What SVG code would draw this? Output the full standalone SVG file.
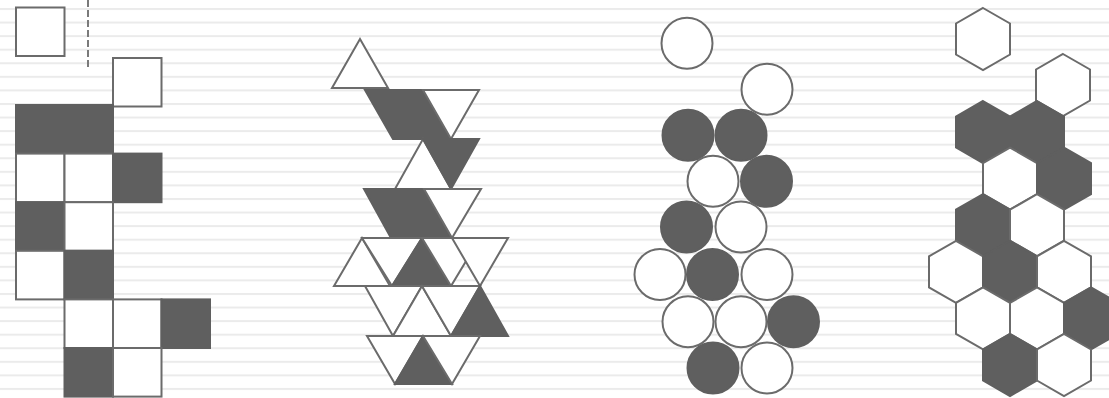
<svg xmlns="http://www.w3.org/2000/svg" width="1109" height="398" viewBox="0 0 1109 398">
<defs>
<pattern id="stripes" patternUnits="userSpaceOnUse" x="0" y="8" width="1109" height="13.57">
<rect x="0" y="0" width="1109" height="2" fill="#ebebeb"/>
</pattern>
<polygon id="hex" points="0,-31 27,-15.5 27,15.5 0,31 -27,15.5 -27,-15.5"/>
</defs>
<style>
.w{fill:#fff;stroke:#6b6b6b;stroke-width:2;stroke-linejoin:miter}
.d{fill:#5f5f5f;stroke:#5f5f5f;stroke-width:2;stroke-linejoin:miter}
.dash{stroke:#7a7a7a;stroke-width:2;stroke-dasharray:7 3;fill:none}
</style>
<rect width="1109" height="398" fill="#fff"/>
<rect width="1109" height="398" fill="url(#stripes)"/>

<g id="squares">
<line class="dash" x1="88" y1="0" x2="88" y2="68"/>
<rect class="w" x="16" y="7.5" width="48.5" height="48.5"/>
<rect class="w" x="113" y="58" width="48.5" height="48.5"/>
<rect class="d" x="16" y="105" width="97" height="48.6"/>
<rect class="w" x="16" y="153.6" width="48.5" height="48.6"/>
<rect class="w" x="64.5" y="153.6" width="48.5" height="48.6"/>
<rect class="d" x="113" y="153.6" width="48.5" height="48.6"/>
<rect class="d" x="16" y="202.2" width="48.5" height="48.6"/>
<rect class="w" x="64.5" y="202.2" width="48.5" height="48.6"/>
<rect class="w" x="16" y="250.8" width="48.5" height="48.6"/>
<rect class="d" x="64.5" y="250.8" width="48.5" height="48.6"/>
<rect class="w" x="64.5" y="299.4" width="48.5" height="48.6"/>
<rect class="w" x="113" y="299.4" width="48.5" height="48.6"/>
<rect class="d" x="161.5" y="299.4" width="48.5" height="48.6"/>
<rect class="d" x="64.5" y="348" width="48.5" height="48.6"/>
<rect class="w" x="113" y="348" width="48.5" height="48.6"/>
</g>

<g id="triangles">
<polygon class="w" points="360,39 388,88 332,88"/>
<polygon class="d" points="365,90 423,90 451,139 393,139"/>
<polygon class="w" points="423,90 479,90 451,139"/>
<polygon class="w" points="423,139 451,189 395,189"/>
<polygon class="d" points="423,139 479,139 451,189"/>
<polygon class="d" points="364,189 424,189 451,238 391,238"/>
<polygon class="w" points="424,189 481,189 452,238"/>
<polygon class="w" points="362,238 390,286 334,286"/>
<polygon class="w" points="362,238 422,238 392,286"/>
<polygon class="d" points="422,238 450,286 392,286"/>
<polygon class="w" points="422,238 480,238 451,286"/>
<polygon class="w" points="452,238 508,238 480,286"/>
<polygon class="w" points="365,286 422,286 393,336"/>
<polygon class="w" points="422,286 451,336 393,336"/>
<polygon class="w" points="422,286 480,286 451,336"/>
<polygon class="d" points="480,286 508,336 451,336"/>
<polygon class="w" points="367,336 423,336 395,384"/>
<polygon class="d" points="423,336 452,384 395,384"/>
<polygon class="w" points="423,336 480,336 452,384"/>
</g>

<g id="circles">
<circle class="w" cx="687" cy="43.3" r="25.5"/>
<circle class="w" cx="767" cy="89.3" r="25.5"/>
<circle class="d" cx="688" cy="135.3" r="25.5"/>
<circle class="d" cx="741" cy="135.3" r="25.5"/>
<circle class="w" cx="713" cy="181.3" r="25.5"/>
<circle class="d" cx="766.5" cy="181.3" r="25.5"/>
<circle class="d" cx="686.5" cy="227" r="25.5"/>
<circle class="w" cx="741" cy="227" r="25.5"/>
<circle class="w" cx="660" cy="274.5" r="25.5"/>
<circle class="d" cx="712.5" cy="274.5" r="25.5"/>
<circle class="w" cx="767" cy="274.5" r="25.5"/>
<circle class="w" cx="688" cy="321.7" r="25.5"/>
<circle class="w" cx="741" cy="321.7" r="25.5"/>
<circle class="d" cx="793.5" cy="321.7" r="25.5"/>
<circle class="d" cx="713" cy="368" r="25.5"/>
<circle class="w" cx="767" cy="368" r="25.5"/>
</g>

<g id="hexagons">
<use href="#hex" class="w" x="983" y="39"/>
<use href="#hex" class="w" x="1063" y="85"/>
<use href="#hex" class="d" x="983" y="132"/>
<use href="#hex" class="d" x="1037" y="132"/>
<use href="#hex" class="w" x="1010" y="178.6"/>
<use href="#hex" class="d" x="1064" y="178.6"/>
<use href="#hex" class="d" x="983" y="225.2"/>
<use href="#hex" class="w" x="1037" y="225.2"/>
<use href="#hex" class="w" x="956" y="271.8"/>
<use href="#hex" class="d" x="1010" y="271.8"/>
<use href="#hex" class="w" x="1064" y="271.8"/>
<use href="#hex" class="w" x="983" y="318.4"/>
<use href="#hex" class="w" x="1037" y="318.4"/>
<use href="#hex" class="d" x="1091" y="318.4"/>
<use href="#hex" class="d" x="1010" y="365"/>
<use href="#hex" class="w" x="1064" y="365"/>
</g>
</svg>
